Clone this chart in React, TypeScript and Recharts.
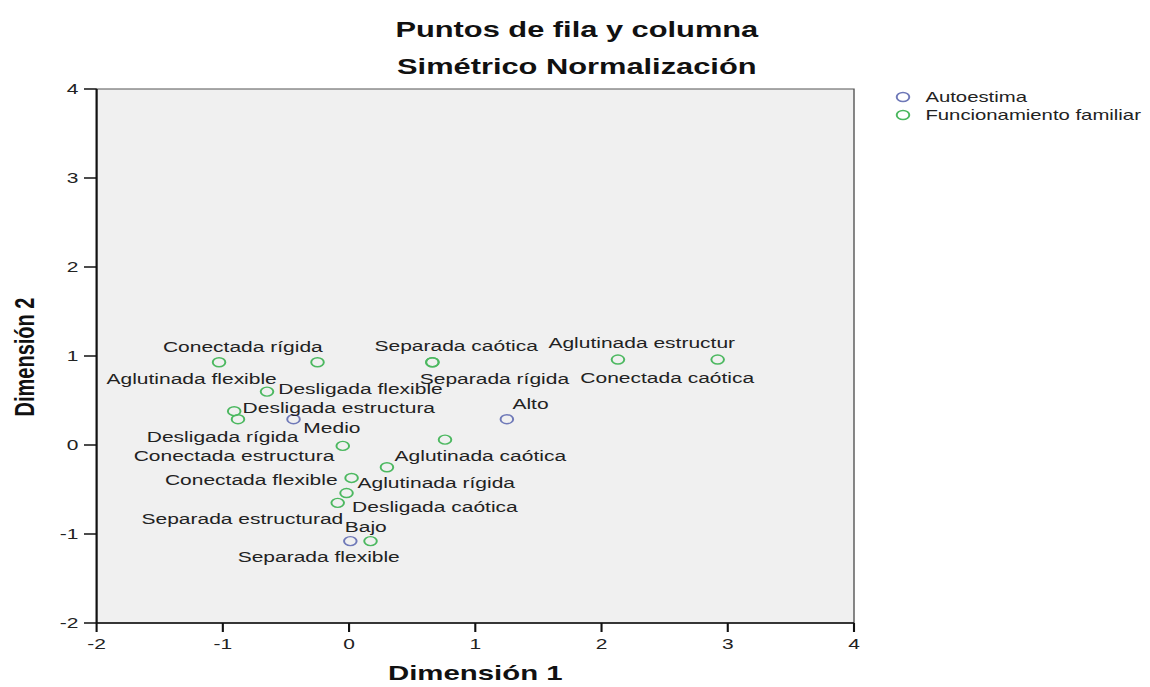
import React from "react";
import { ScatterChart, Scatter, XAxis, YAxis, ReferenceArea, Legend } from "recharts";

// the reference picture is stretched horizontally; draw at 1/1.4 width and stretch back
const STRETCH = 1.4;
const W = 821;
const H = 687;
const FONT = "'Liberation Sans', Arial, sans-serif";

const xTicks = [-2, -1, 0, 1, 2, 3, 4];
const yTicks = [-2, -1, 0, 1, 2, 3, 4];

const autoestimaNames = ["Medio", "Alto", "Bajo"];
const autoestimaDim1 = [-0.44, 1.25, 0.01];
const autoestimaDim2 = [0.29, 0.29, -1.08];

const familiaNames = [
  "Conectada rígida",
  "Desligada flexible",
  "Aglutinada flexible",
  "Desligada estructura",
  "Desligada rígida",
  "Conectada estructura",
  "Aglutinada caótica",
  "Aglutinada rígida",
  "Conectada flexible",
  "Desligada caótica",
  "Separada estructurad",
  "Separada flexible",
  "Separada caótica",
  "Separada rígida",
  "Aglutinada estructur",
  "Conectada caótica",
];
const familiaDim1 = [-1.03, -0.25, -0.65, -0.91, -0.88, -0.05, 0.76, 0.3, 0.02, -0.02, -0.09, 0.17, 0.66, 0.66, 2.13, 2.92];
const familiaDim2 = [0.93, 0.93, 0.6, 0.38, 0.29, -0.01, 0.06, -0.25, -0.37, -0.54, -0.65, -1.08, 0.93, 0.93, 0.96, 0.96];

const autoestimaData = autoestimaNames.map((name, i) => ({ name, x: autoestimaDim1[i], y: autoestimaDim2[i] }));
const familiaData = familiaNames.map((name, i) => ({ name, x: familiaDim1[i], y: familiaDim2[i] }));

// where each point label sits relative to its marker: dx, dy, anchor
const labelPlacement: Record<string, [number, number, "start" | "middle" | "end"]> = {
  "Conectada rígida": [17, -16, "middle"],
  "Desligada flexible": [-28, 26, "start"],
  "Aglutinada flexible": [7, -13, "end"],
  "Desligada estructura": [6, -4, "start"],
  "Desligada rígida": [-11, 17, "middle"],
  "Conectada estructura": [-6, 10, "end"],
  "Aglutinada caótica": [-36, 16, "start"],
  "Aglutinada rígida": [-21, 15, "start"],
  "Conectada flexible": [-10, 2, "end"],
  "Desligada caótica": [4, 14, "start"],
  "Separada estructurad": [4, 16, "end"],
  "Separada flexible": [-37, 16, "middle"],
  "Separada caótica": [17, -17, "middle"],
  "Separada rígida": [-9, 16, "start"],
  "Aglutinada estructur": [17, -17, "middle"],
  "Conectada caótica": [-36, 18, "middle"],
  Medio: [7, 8, "start"],
  Alto: [4, -16, "start"],
  Bajo: [-4, -14, "start"],
};

const BLUE = "#6f79b8";
const GREEN = "#4cb860";

const makeShape = (color: string) => (props: any) => {
  const { cx, cy, payload } = props;
  const [dx, dy, anchor] = labelPlacement[payload.name] ?? [6, -10, "start"];
  return (
    <g>
      <circle cx={cx} cy={cy} r={4.5} fill="none" stroke={color} strokeWidth={1.4} />
      <text
        x={cx + dx}
        y={cy + dy}
        textAnchor={anchor}
        dominantBaseline="central"
        fontSize={15}
        fontFamily={FONT}
        fill="#222"
      >
        {payload.name}
      </text>
    </g>
  );
};

const renderLegend = (props: any) => (
  <div style={{ fontFamily: FONT, fontSize: 14.5, color: "#222" }}>
    {(props.payload || []).map((entry: any) => (
      <div key={entry.value} style={{ display: "flex", alignItems: "center", height: 18 }}>
        <svg width={16} height={12}>
          <circle cx={7} cy={6} r={4.5} fill="none" stroke={entry.color} strokeWidth={1.4} />
        </svg>
        <span style={{ marginLeft: 7, whiteSpace: "nowrap" }}>{entry.value}</span>
      </div>
    ))}
  </div>
);

const titleStyle: React.CSSProperties = {
  position: "absolute",
  left: 0,
  width: 824,
  textAlign: "center",
  fontFamily: FONT,
  fontWeight: "bold",
  fontSize: 22,
  lineHeight: "26px",
  color: "#111",
};

export default function App() {
  return (
    <div style={{ width: 1150, height: H, overflow: "hidden", position: "relative", background: "#fff" }}>
      <style>{`body{margin:0}`}</style>
      <div
        style={{
          width: W,
          height: H,
          position: "relative",
          transform: `scaleX(${STRETCH})`,
          transformOrigin: "0 0",
        }}
      >
        <div style={{ ...titleStyle, top: 17 }}>Puntos de fila y columna</div>
        <div style={{ ...titleStyle, top: 54 }}>Simétrico Normalización</div>
        <ScatterChart width={W} height={H} margin={{ top: 89, right: 211, bottom: 0, left: 0 }}>
          <ReferenceArea x1={-2} x2={4} y1={-2} y2={4} fill="#f0f0f0" fillOpacity={1} stroke="#555" strokeWidth={1} />
          <XAxis
            type="number"
            dataKey="x"
            domain={[-2, 4]}
            ticks={xTicks}
            height={64}
            tickSize={9}
            tickMargin={6}
            axisLine={{ stroke: "#111", strokeWidth: 1.5 }}
            tickLine={{ stroke: "#111", strokeWidth: 1.5 }}
            tick={{ fontSize: 15, fill: "#222", fontFamily: FONT }}
            label={{
              content: () => (
                <text
                  x={339.5}
                  y={673}
                  textAnchor="middle"
                  dominantBaseline="central"
                  fontSize={21}
                  fontWeight="bold"
                  fontFamily={FONT}
                  fill="#111"
                >
                  Dimensión 1
                </text>
              ),
            }}
          />
          <YAxis
            type="number"
            dataKey="y"
            domain={[-2, 4]}
            ticks={yTicks}
            width={69}
            tickSize={9}
            tickMargin={4}
            axisLine={{ stroke: "#111", strokeWidth: 1.5 }}
            tickLine={{ stroke: "#111", strokeWidth: 1.5 }}
            tick={{ fontSize: 15, fill: "#222", fontFamily: FONT }}
            label={{
              content: () => (
                <text
                  x={17}
                  y={357}
                  transform="rotate(-90 17 357)"
                  textAnchor="middle"
                  dominantBaseline="central"
                  fontSize={20}
                  fontWeight="bold"
                  fontFamily={FONT}
                  fill="#111"
                >
                  Dimensión 2
                </text>
              ),
            }}
          />
          <Legend
            content={renderLegend}
            layout="vertical"
            align="center"
            verticalAlign="middle"
            wrapperStyle={{ left: 638, top: 88, width: 183 }}
          />
          <Scatter
            name="Autoestima"
            data={autoestimaData}
            fill={BLUE}
            shape={makeShape(BLUE)}
            isAnimationActive={false}
          />
          <Scatter
            name="Funcionamiento familiar"
            data={familiaData}
            fill={GREEN}
            shape={makeShape(GREEN)}
            isAnimationActive={false}
          />
        </ScatterChart>
      </div>
    </div>
  );
}
